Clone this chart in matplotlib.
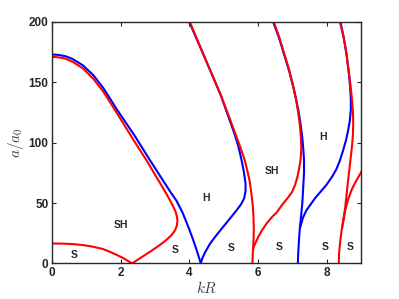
import matplotlib
matplotlib.use("Agg")
import matplotlib.pyplot as plt

# branch curves, (kR, a/a0)
blue_a_k = [0, 0.2, 0.4, 0.6, 0.9, 1.2, 1.5, 1.9, 2.4, 2.85, 3.2, 3.45, 3.62, 3.8, 3.97,
            4.1, 4.22, 4.33]
blue_a_a = [173, 172.6, 171.5, 169.3, 164, 156, 145, 127, 106, 85.5, 70, 59, 52, 42, 30,
            20, 10, 0]

red_b_k = [0, 0.2, 0.4, 0.6, 0.9, 1.2, 1.5, 1.9, 2.4, 2.78, 3.05, 3.26, 3.42, 3.53, 3.6,
           3.64, 3.65, 3.63, 3.58, 3.48, 3.33, 3.15, 2.9, 2.6, 2.33]
red_b_a = [171, 170.6, 169.5, 167, 161.5, 153, 142, 124, 101, 84, 71, 61, 53, 47, 42.5,
           38, 35, 31, 27.5, 23.5, 19.5, 15.5, 10.5, 5, 0]

red_c_k = [0, 0.3, 0.6, 0.9, 1.2, 1.5, 1.8, 2.05, 2.33]
red_c_a = [16.5, 16.4, 16, 15.2, 13.8, 11.8, 8.2, 4.8, 0]

blue_d_k = [3.99, 4.3, 4.6, 4.9, 5.15, 5.3, 5.42, 5.51, 5.58, 5.63, 5.63, 5.59, 5.5, 5.37,
            5.2, 5.0, 4.8, 4.6, 4.45, 4.37, 4.33]
blue_d_a = [200, 180, 160, 140, 120, 108, 97, 86, 76, 66, 60, 54, 49, 44, 38, 31, 24,
            16.5, 9, 4, 0]

red_d_k = [4.01, 4.3, 4.6, 4.9, 5.17, 5.35, 5.48, 5.6, 5.68, 5.75, 5.8, 5.84, 5.86, 5.87,
           5.86, 5.84, 5.83]
red_d_a = [200, 180, 160, 140, 120, 106, 96, 86, 77, 68, 58, 48, 38, 28, 18, 8, 0]

blue_e_k = [6.43, 6.6, 6.75, 6.9, 7.02, 7.1, 7.17, 7.23, 7.28, 7.31, 7.33, 7.33, 7.31,
            7.28, 7.24, 7.21, 7.18, 7.16, 7.15]
blue_e_a = [200, 187, 173, 159, 146, 136, 126, 115, 104, 94, 85, 75, 65, 50, 38, 30, 18,
            8, 0]

red_e_k = [6.45, 6.6, 6.75, 6.9, 7.02, 7.1, 7.16, 7.21, 7.24, 7.25, 7.23, 7.19, 7.14,
           7.07, 6.98, 6.85, 6.72, 6.53, 6.4, 6.24, 6.12, 6.0, 5.92, 5.87, 5.85]
red_e_a = [200, 188, 174, 160, 146, 135, 125, 114, 104, 95, 86, 79, 72, 65, 59, 54,
           49.5, 42, 38.5, 33, 28, 22, 17, 14, 12]

blue_f_k = [7.22, 7.3, 7.4, 7.5, 7.65, 7.8, 7.98, 8.15, 8.27, 8.37, 8.47, 8.55, 8.61,
            8.66, 8.69, 8.69, 8.67, 8.63, 8.57, 8.49, 8.39]
blue_f_a = [30, 38, 44, 48, 54, 59, 65, 72, 78, 85, 94, 102, 110, 118, 127, 136, 146,
            158, 172, 186, 200]

red_g_k = [8.37, 8.46, 8.54, 8.61, 8.67, 8.72, 8.75, 8.76, 8.75, 8.72, 8.68, 8.64, 8.6,
           8.56, 8.52, 8.47, 8.42, 8.38, 8.35, 8.34]
red_g_a = [200, 190, 178, 163, 150, 137, 126, 116, 106, 96, 86, 76, 66, 55, 45, 36, 27,
           18, 9, 0]

red_h_k = [8.44, 8.48, 8.53, 8.6, 8.7, 8.8, 8.9, 9.0, 9.05]
red_h_a = [30, 36, 44, 52, 60, 66, 71, 76, 79]

region_text = ["S", "SH", "S", "H", "S", "SH", "H", "S", "S", "S"]
region_k = [0.64, 2.02, 3.58, 4.48, 5.22, 6.41, 7.89, 6.6, 7.93, 8.68]
region_a = [7, 31.7, 11, 54, 12.4, 76.7, 105, 13.7, 13.7, 13.7]

plt.rcParams['mathtext.fontset'] = 'cm'
plt.rcParams['font.family'] = ['Liberation Sans', 'DejaVu Sans']

fig = plt.figure(figsize=(3.99, 2.99), dpi=100)
ax = fig.add_axes([0.130, 0.119, 0.776, 0.808])

dark = '#262626'

# blue first, red drawn on top
for k, a in [(blue_a_k, blue_a_a), (blue_d_k, blue_d_a), (blue_e_k, blue_e_a), (blue_f_k, blue_f_a)]:
    ax.plot(k, a, color='blue', lw=1.5)
for k, a in [(red_b_k, red_b_a), (red_c_k, red_c_a), (red_d_k, red_d_a), (red_e_k, red_e_a),
             (red_g_k, red_g_a), (red_h_k, red_h_a)]:
    ax.plot(k, a, color='red', lw=1.5)

for t, k, a in zip(region_text, region_k, region_a):
    ax.text(k, a, t, ha='center', va='center', fontsize=7.5, fontweight='bold', color=dark)

ax.set_xlim(0, 9)
ax.set_ylim(0, 200)
ax.set_xticks([0, 2, 4, 6, 8])
ax.set_yticks([0, 50, 100, 150, 200])
ax.tick_params(direction='in', top=True, right=True, length=3, width=0.8,
               labelsize=8.5, colors=dark, pad=2.5)
for lab in ax.get_xticklabels() + ax.get_yticklabels():
    lab.set_fontweight('bold')
for sp in ax.spines.values():
    sp.set_color(dark)
    sp.set_linewidth(1.0)

ax.set_xlabel('$kR$', fontsize=11, color='#404040', labelpad=1)
ax.set_ylabel('$a/a_0$', fontsize=11, color='#404040', labelpad=2)

fig.savefig('out.png', dpi=100)
